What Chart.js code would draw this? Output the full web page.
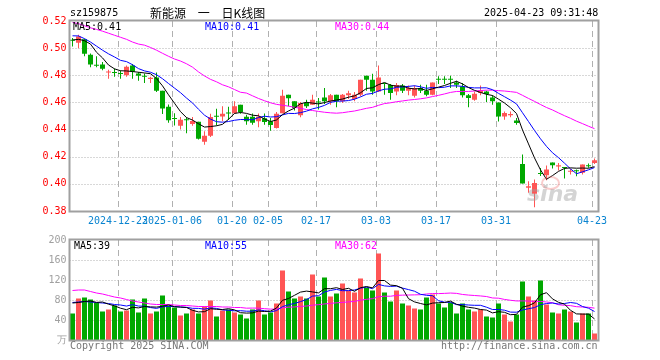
<!DOCTYPE html>
<html><head><meta charset="utf-8">
<script src="https://cdn.jsdelivr.net/npm/chart.js@4.4.1/dist/chart.umd.min.js"></script>
<style>
html,body{margin:0;padding:0;background:#fff;}
#wrap{position:relative;width:660px;height:360px;overflow:hidden;background:#fff;}
canvas{position:absolute;left:0;}
.t{position:absolute;font:10px "DejaVu Sans Mono",monospace;white-space:pre;line-height:12px;}
</style></head><body>
<div id="wrap">
<canvas id="main" width="660" height="230" style="top:0"></canvas>
<canvas id="vol" width="660" height="130" style="top:230px"></canvas>
<div class="t" style="left:70px;top:7px;color:#000">sz159875</div>
<div class="t" style="left:150px;top:6px;color:#000;font:12px 'Noto Sans CJK SC',sans-serif;line-height:14px;word-spacing:9px">新能源 一 日K线图</div>
<div class="t" style="left:484px;top:7px;color:#000">2025-04-23 09:31:48</div>
<div class="t" id="lm5" style="left:73px;top:21px;color:#000"></div>
<div class="t" id="lm10" style="left:205px;top:21px;color:#0000ff"></div>
<div class="t" id="lm30" style="left:335px;top:21px;color:#ff00ff"></div>
<div class="t" id="lv5" style="left:74px;top:240px;color:#000"></div>
<div class="t" id="lv10" style="left:205px;top:240px;color:#0000ff"></div>
<div class="t" id="lv30" style="left:335px;top:240px;color:#ff00ff"></div>
<div class="t" style="left:70px;top:340px;color:#777">Copyright 2025 SINA.COM</div>
<div class="t" style="left:441px;top:340px;color:#777">http://finance.sina.com.cn</div>
<div style="position:absolute;left:541px;top:176px;width:15px;height:10px;border:2px solid rgba(240,110,110,0.35);border-radius:50%"></div>
<div style="position:absolute;left:527px;top:182px;font:italic bold 22px 'DejaVu Sans',sans-serif;color:rgba(160,160,160,0.45);line-height:24px">sina</div>
</div>
<script>
const dates = [
'2024-12-11','2024-12-12','2024-12-13','2024-12-16','2024-12-17','2024-12-18','2024-12-19','2024-12-20',
'2024-12-23','2024-12-24','2024-12-25','2024-12-26','2024-12-27','2024-12-30','2024-12-31',
'2025-01-02','2025-01-03','2025-01-06','2025-01-07','2025-01-08','2025-01-09','2025-01-10',
'2025-01-13','2025-01-14','2025-01-15','2025-01-16','2025-01-17','2025-01-20','2025-01-21','2025-01-22','2025-01-23','2025-01-24','2025-01-27',
'2025-02-05','2025-02-06','2025-02-07','2025-02-10','2025-02-11','2025-02-12','2025-02-13','2025-02-14',
'2025-02-17','2025-02-18','2025-02-19','2025-02-20','2025-02-21','2025-02-24','2025-02-25','2025-02-26','2025-02-27','2025-02-28',
'2025-03-03','2025-03-04','2025-03-05','2025-03-06','2025-03-07','2025-03-10','2025-03-11','2025-03-12','2025-03-13','2025-03-14',
'2025-03-17','2025-03-18','2025-03-19','2025-03-20','2025-03-21','2025-03-24','2025-03-25','2025-03-26','2025-03-27','2025-03-28',
'2025-03-31','2025-04-01','2025-04-02','2025-04-03','2025-04-07','2025-04-08','2025-04-09','2025-04-10','2025-04-11',
'2025-04-14','2025-04-15','2025-04-16','2025-04-17','2025-04-18','2025-04-21','2025-04-22','2025-04-23'];
const opens = [0.5062,0.504,0.5066,0.4951,0.4875,0.488,0.482,0.4825,0.4816,0.480,
0.4873,0.4814,0.4792,0.4773,0.4784,0.4686,0.4569,0.448,0.4429,0.4471,
0.4441,0.4458,0.4311,0.4355,0.4498,0.4497,0.452,0.452,0.4583,0.4495,
0.4495,0.4461,0.4483,0.4461,0.4412,0.452,0.4657,0.4608,0.4505,0.4598,
0.4583,0.4603,0.4637,0.4608,0.4657,0.4608,0.4652,0.4625,0.4657,0.4797,
0.4767,0.4681,0.4743,0.4729,0.4681,0.4725,0.4686,0.465,0.4706,0.4686,
0.4657,0.477,0.477,0.477,0.4747,0.4718,0.4652,0.462,0.4669,0.4681,
0.4637,0.460,0.4497,0.4505,0.4466,0.4146,0.3971,0.3927,0.4075,0.4064,
0.4158,0.4128,0.412,0.409,0.4098,0.4081,0.4137,0.4154];
const closes = [0.5055,0.5085,0.4958,0.488,0.487,0.4848,0.4823,0.4816,0.481,0.4863,
0.4826,0.4797,0.479,0.4782,0.4686,0.4556,0.4468,0.4478,0.4473,0.4468,
0.4463,0.4333,0.4355,0.4493,0.4495,0.4517,0.4518,0.4571,0.4529,0.4461,
0.4451,0.4495,0.4456,0.4434,0.4517,0.4649,0.463,0.4559,0.4596,0.4571,
0.462,0.460,0.4608,0.4652,0.4608,0.4657,0.4667,0.4657,0.4767,0.4767,
0.4681,0.4784,0.4736,0.4669,0.4729,0.4686,0.4706,0.4706,0.4686,0.4657,
0.4747,0.4767,0.4767,0.4767,0.473,0.4652,0.4632,0.4664,0.4689,0.4662,
0.4608,0.4497,0.4522,0.4515,0.4449,0.4002,0.3983,0.4007,0.4073,0.4105,
0.4137,0.4137,0.4117,0.4093,0.4093,0.4142,0.413,0.4174];
const highs = [0.5074,0.5098,0.507,0.496,0.494,0.4897,0.4841,0.485,0.4836,0.4873,
0.4883,0.4824,0.4814,0.479,0.482,0.4686,0.4584,0.452,0.4493,0.449,
0.4493,0.4458,0.4387,0.4517,0.4554,0.4571,0.4568,0.4608,0.4583,0.451,
0.4519,0.4519,0.4519,0.4485,0.453,0.4694,0.4657,0.4608,0.4603,0.462,
0.4657,0.4632,0.4706,0.4662,0.4657,0.4662,0.4686,0.4676,0.4767,0.4797,
0.4811,0.4872,0.4743,0.4735,0.4743,0.4735,0.4725,0.4725,0.473,0.473,
0.4747,0.4792,0.4792,0.4797,0.476,0.4743,0.4662,0.4681,0.4725,0.4686,
0.4652,0.460,0.4534,0.4534,0.4485,0.4216,0.402,0.4032,0.4117,0.4135,
0.4158,0.4154,0.4122,0.411,0.4105,0.4142,0.415,0.4186];
const lows = [0.5012,0.500,0.494,0.486,0.486,0.4838,0.4775,0.479,0.4775,0.479,
0.4775,0.476,0.4743,0.4743,0.4676,0.4515,0.4451,0.443,0.440,0.4373,
0.4429,0.4326,0.4289,0.4346,0.443,0.4461,0.447,0.4515,0.4517,0.4436,
0.4436,0.4417,0.4436,0.4392,0.4407,0.452,0.4571,0.454,0.449,0.4559,
0.4583,0.4547,0.4588,0.4583,0.4564,0.4596,0.4625,0.4608,0.4645,0.4686,
0.4657,0.4676,0.4657,0.462,0.4652,0.4669,0.4652,0.4637,0.4669,0.4645,
0.4652,0.4736,0.4736,0.4706,0.4706,0.4637,0.4564,0.4613,0.4652,0.4603,
0.4583,0.446,0.4473,0.449,0.4436,0.4002,0.3934,0.3828,0.4058,0.4027,
0.4113,0.4098,0.404,0.4069,0.4056,0.4069,0.4118,0.4147];
const volumes = [53,83,85,81,74,57,61,69,57,59,
81,55,83,53,57,89,69,65,49,53,
61,53,67,79,47,59,61,55,51,43,
61,79,51,55,73,139,97,83,87,83,
131,87,125,87,93,113,99,95,123,105,
99,173,95,77,99,73,69,63,61,85,
91,73,65,75,53,73,61,57,61,47,
45,73,51,37,51,117,87,79,119,71,
55,53,61,57,35,53,53,13];
const ma5Lead = [0.506,0.5065,0.5055,0.503];
const ma10Lead = [0.5091,0.509,0.507,0.5045,0.5015,0.4985,0.4958,0.4935,0.491];
const ma30Lead = [0.519,0.518,0.5165,0.515,0.5138,0.5125,0.511,0.5095,0.508,0.5065,
0.5045,0.503,0.5022,0.5005,0.4985,0.4962,0.494,0.492,0.4905,0.4885,
0.486,0.4825,0.4795,0.477,0.4752,0.473,0.4715,0.4695,0.4675];
const volMa5Lead = [74,75,77,78];
const volMa10Lead = [75,76,77,76,75,74,73,71,70];
const volMa30Lead = [99,100,100,97,94,92,89,86,84,81,78,76,74,72,71,71,71,70,69,69,68,67,67,67,67,66,66,65,65];
const tickDates = ['2024-12-23','2025-01-06','2025-01-20','2025-02-05','2025-02-17','2025-03-03','2025-03-17','2025-03-31','2025-04-23'];
const tickTexts = ['2024-12-23','2025-01-06','01-20','02-05','02-17','03-03','03-17','03-31','04-23'];
const maLabels = ['MA5:0.41','MA10:0.41','MA30:0.44'];
const volMaLabels = ['MA5:39','MA10:55','MA30:62'];

function movingAvg(src, n, lead){
  return src.map((v,i)=>{
    if (i < n-1) return lead[i];
    let s = 0; for (let k=i-n+1;k<=i;k++) s += src[k];
    return s/n;
  });
}
const RED='#ff5555', GREEN='#00a800';
const colors = closes.map((c,i)=> c>=opens[i] ? RED : GREEN);
const idx = dates.map((d,i)=>i);

document.getElementById('lm5').textContent = maLabels[0];
document.getElementById('lm10').textContent = maLabels[1];
document.getElementById('lm30').textContent = maLabels[2];
document.getElementById('lv5').textContent = volMaLabels[0];
document.getElementById('lv10').textContent = volMaLabels[1];
document.getElementById('lv30').textContent = volMaLabels[2];

Chart.defaults.font.family = '"DejaVu Sans Mono", monospace';
Chart.defaults.font.size = 10;

const gridPlugin = {
  id:'kgrid',
  beforeDatasetsDraw(chart){
    const {ctx, chartArea:a, scales:{x,y}} = chart;
    ctx.save();
    ctx.strokeStyle = '#b0b0b0'; ctx.lineWidth = 1;
    ctx.setLineDash([1,2]);
    y.ticks.forEach(t=>{
      const py = Math.round(y.getPixelForValue(t.value))+0.5;
      if (py <= a.top+2 || py >= a.bottom-2) return;
      ctx.beginPath(); ctx.moveTo(a.left,py); ctx.lineTo(a.right,py); ctx.stroke();
    });
    ctx.setLineDash([6,4]);
    tickDates.forEach(d=>{
      const i = dates.indexOf(d);
      const px = Math.round(x.getPixelForValue(i) - 2.5) + 0.5;
      ctx.beginPath(); ctx.moveTo(px,a.top); ctx.lineTo(px,a.bottom); ctx.stroke();
    });
    ctx.restore();
  },
  afterDatasetsDraw(chart){
    const {ctx, chartArea:a} = chart;
    ctx.save();
    ctx.strokeStyle = '#a0a0a0'; ctx.lineWidth = 2; ctx.setLineDash([]);
    ctx.strokeRect(Math.round(a.left)-0.5, Math.round(a.top)-0.5, Math.round(a.right-a.left)+1, Math.round(a.bottom-a.top)+1);
    ctx.restore();
  }
};

function lineDs(data, color){
  return {type:'line', data, borderColor:color, borderWidth:1, pointRadius:0, tension:0, fill:false, order:0};
}

new Chart(document.getElementById('main'), {
  type:'bar',
  data:{
    labels: dates,
    datasets:[
      lineDs(movingAvg(closes,5,ma5Lead), '#000000'),
      lineDs(movingAvg(closes,10,ma10Lead), '#0000ff'),
      lineDs(movingAvg(closes,30,ma30Lead), '#ff00ff'),
      {type:'bar', data: idx.map(i=>[opens[i],closes[i]]), backgroundColor: colors, barThickness:5, minBarLength:1, grouped:false, inflateAmount:0, order:1},
      {type:'bar', data: idx.map(i=>[lows[i],highs[i]]), backgroundColor: colors, barThickness:1, minBarLength:1, grouped:false, inflateAmount:0, order:2}
    ]
  },
  options:{
    responsive:false, animation:false, events:[],
    layout:{padding:{top:21,right:62.5,left:0,bottom:0}},
    plugins:{legend:{display:false}, tooltip:{enabled:false}},
    scales:{
      x:{type:'category', offset:true, grid:{display:false, drawTicks:false}, border:{display:false},
         ticks:{autoSkip:false, maxRotation:0, minRotation:0, padding:4, labelOffset:-2.5, color:'#0a84d0',
           callback:(v)=>{ const k = tickDates.indexOf(dates[v]); return k>=0 ? tickTexts[k] : ''; }},
         afterFit:(s)=>{ s.height = 19; }},
      y:{min:0.38, max:0.52, grid:{display:false, drawTicks:false}, border:{display:false},
         ticks:{stepSize:0.02, padding:3, color:'#ff0000', callback:(v)=>Number(v).toFixed(2)},
         afterFit:(s)=>{ s.width = 69.5; }}
    }
  },
  plugins:[gridPlugin]
});

new Chart(document.getElementById('vol'), {
  type:'bar',
  data:{
    labels: dates,
    datasets:[
      lineDs(movingAvg(volumes,5,volMa5Lead), '#000000'),
      lineDs(movingAvg(volumes,10,volMa10Lead), '#0000ff'),
      lineDs(movingAvg(volumes,30,volMa30Lead), '#ff00ff'),
      {type:'bar', data: volumes, backgroundColor: colors, barThickness:5, grouped:false, inflateAmount:0, order:1}
    ]
  },
  options:{
    responsive:false, animation:false, events:[],
    layout:{padding:{top:10,right:62.5,left:0,bottom:20}},
    plugins:{legend:{display:false}, tooltip:{enabled:false}},
    scales:{
      x:{type:'category', offset:true, display:false},
      y:{min:0, max:200, grid:{display:false, drawTicks:false}, border:{display:false},
         ticks:{stepSize:40, padding:3, color:'#a0a0a0', font:{size:10}, callback:(v)=> v===0 ? '万' : String(v)},
         afterFit:(s)=>{ s.width = 69.5; }}
    }
  },
  plugins:[gridPlugin]
});
</script>
</body></html>
